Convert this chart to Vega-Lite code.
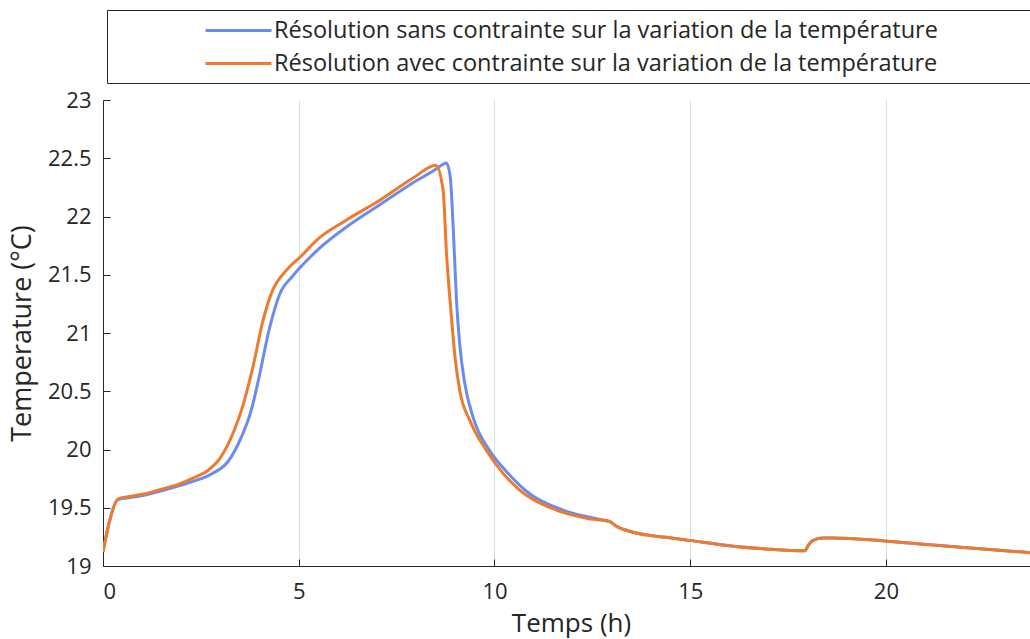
{
  "$schema": "https://vega.github.io/schema/vega-lite/v6.json",
  "width": 927,
  "height": 466,
  "autosize": {"type": "none"},
  "padding": {"left": 103, "top": 100, "right": 0, "bottom": 73},
  "background": "white",
  "config": {
    "font": "Open Sans",
    "view": {"stroke": null},
    "axis": {
      "labelFontSize": 22,
      "titleFontSize": 26,
      "titleFontWeight": "normal",
      "labelColor": "#262626",
      "titleColor": "#262626",
      "domainColor": "#262626",
      "tickColor": "#262626",
      "domainWidth": 1,
      "tickWidth": 1,
      "tickSize": -7
    }
  },
  "data": {
    "values": [
      {"serie": "sans", "t": 0, "T": 19.12},
      {"serie": "sans", "t": 0.17, "T": 19.39},
      {"serie": "sans", "t": 0.38, "T": 19.57},
      {"serie": "sans", "t": 0.64, "T": 19.585},
      {"serie": "sans", "t": 1.07, "T": 19.61},
      {"serie": "sans", "t": 1.49, "T": 19.645},
      {"serie": "sans", "t": 1.92, "T": 19.686},
      {"serie": "sans", "t": 2.34, "T": 19.73},
      {"serie": "sans", "t": 2.77, "T": 19.79},
      {"serie": "sans", "t": 3.19, "T": 19.895},
      {"serie": "sans", "t": 3.54, "T": 20.11},
      {"serie": "sans", "t": 3.79, "T": 20.34},
      {"serie": "sans", "t": 3.96, "T": 20.58},
      {"serie": "sans", "t": 4.26, "T": 21.05},
      {"serie": "sans", "t": 4.51, "T": 21.33},
      {"serie": "sans", "t": 4.85, "T": 21.49},
      {"serie": "sans", "t": 5.2, "T": 21.62},
      {"serie": "sans", "t": 5.54, "T": 21.73},
      {"serie": "sans", "t": 6.22, "T": 21.91},
      {"serie": "sans", "t": 7.07, "T": 22.1},
      {"serie": "sans", "t": 7.92, "T": 22.29},
      {"serie": "sans", "t": 8.52, "T": 22.41},
      {"serie": "sans", "t": 8.69, "T": 22.45},
      {"serie": "sans", "t": 8.77, "T": 22.46},
      {"serie": "sans", "t": 8.87, "T": 22.34},
      {"serie": "sans", "t": 8.94, "T": 21.95},
      {"serie": "sans", "t": 9.03, "T": 21.28},
      {"serie": "sans", "t": 9.11, "T": 20.91},
      {"serie": "sans", "t": 9.24, "T": 20.57},
      {"serie": "sans", "t": 9.45, "T": 20.28},
      {"serie": "sans", "t": 9.88, "T": 19.99},
      {"serie": "sans", "t": 10.31, "T": 19.81},
      {"serie": "sans", "t": 10.9, "T": 19.62},
      {"serie": "sans", "t": 11.75, "T": 19.48},
      {"serie": "sans", "t": 12.69, "T": 19.4},
      {"serie": "sans", "t": 12.95, "T": 19.38},
      {"serie": "sans", "t": 13.12, "T": 19.34},
      {"serie": "sans", "t": 13.54, "T": 19.29},
      {"serie": "sans", "t": 14.39, "T": 19.246},
      {"serie": "sans", "t": 14.97, "T": 19.22},
      {"serie": "sans", "t": 16.1, "T": 19.17},
      {"serie": "sans", "t": 16.95, "T": 19.146},
      {"serie": "sans", "t": 17.93, "T": 19.13},
      {"serie": "sans", "t": 18.02, "T": 19.18},
      {"serie": "sans", "t": 18.14, "T": 19.22},
      {"serie": "sans", "t": 18.4, "T": 19.24},
      {"serie": "sans", "t": 18.65, "T": 19.24},
      {"serie": "sans", "t": 19.97, "T": 19.215},
      {"serie": "sans", "t": 21.21, "T": 19.18},
      {"serie": "sans", "t": 22.48, "T": 19.146},
      {"serie": "sans", "t": 23.68, "T": 19.114},
      {"serie": "avec", "t": 0, "T": 19.12},
      {"serie": "avec", "t": 0.17, "T": 19.39},
      {"serie": "avec", "t": 0.38, "T": 19.575},
      {"serie": "avec", "t": 0.64, "T": 19.594},
      {"serie": "avec", "t": 1.07, "T": 19.62},
      {"serie": "avec", "t": 1.49, "T": 19.66},
      {"serie": "avec", "t": 1.92, "T": 19.7},
      {"serie": "avec", "t": 2.34, "T": 19.76},
      {"serie": "avec", "t": 2.68, "T": 19.82},
      {"serie": "avec", "t": 3.0, "T": 19.93},
      {"serie": "avec", "t": 3.37, "T": 20.18},
      {"serie": "avec", "t": 3.54, "T": 20.34},
      {"serie": "avec", "t": 3.83, "T": 20.71},
      {"serie": "avec", "t": 4.09, "T": 21.11},
      {"serie": "avec", "t": 4.3, "T": 21.34},
      {"serie": "avec", "t": 4.69, "T": 21.54},
      {"serie": "avec", "t": 5.03, "T": 21.65},
      {"serie": "avec", "t": 5.54, "T": 21.82},
      {"serie": "avec", "t": 6.22, "T": 21.97},
      {"serie": "avec", "t": 7.07, "T": 22.14},
      {"serie": "avec", "t": 7.92, "T": 22.33},
      {"serie": "avec", "t": 8.5, "T": 22.44},
      {"serie": "avec", "t": 8.69, "T": 22.22},
      {"serie": "avec", "t": 8.77, "T": 21.71},
      {"serie": "avec", "t": 8.9, "T": 21.14},
      {"serie": "avec", "t": 8.99, "T": 20.8},
      {"serie": "avec", "t": 9.11, "T": 20.51},
      {"serie": "avec", "t": 9.37, "T": 20.25},
      {"serie": "avec", "t": 9.8, "T": 19.99},
      {"serie": "avec", "t": 10.22, "T": 19.795},
      {"serie": "avec", "t": 10.65, "T": 19.65},
      {"serie": "avec", "t": 11.5, "T": 19.49},
      {"serie": "avec", "t": 12.35, "T": 19.41},
      {"serie": "avec", "t": 12.95, "T": 19.38},
      {"serie": "avec", "t": 13.12, "T": 19.34},
      {"serie": "avec", "t": 13.54, "T": 19.29},
      {"serie": "avec", "t": 14.39, "T": 19.246},
      {"serie": "avec", "t": 14.97, "T": 19.22},
      {"serie": "avec", "t": 16.1, "T": 19.17},
      {"serie": "avec", "t": 16.95, "T": 19.146},
      {"serie": "avec", "t": 17.93, "T": 19.13},
      {"serie": "avec", "t": 18.02, "T": 19.18},
      {"serie": "avec", "t": 18.14, "T": 19.22},
      {"serie": "avec", "t": 18.4, "T": 19.24},
      {"serie": "avec", "t": 18.65, "T": 19.24},
      {"serie": "avec", "t": 19.97, "T": 19.215},
      {"serie": "avec", "t": 21.21, "T": 19.18},
      {"serie": "avec", "t": 22.48, "T": 19.146},
      {"serie": "avec", "t": 23.68, "T": 19.114}
    ]
  },
  "mark": {"type": "line", "strokeWidth": 3, "clip": true, "interpolate": "monotone"},
  "encoding": {
    "x": {
      "field": "t",
      "type": "quantitative",
      "scale": {"domain": [0, 23.68], "nice": false, "zero": false},
      "axis": {
        "title": "Temps (h)",
        "values": [0, 5, 10, 15, 20],
        "grid": true,
        "gridColor": "#dedede",
        "gridWidth": 1,
        "labelPadding": 22,
        "titleX": 468,
        "titleY": 44,
        "titleBaseline": "top"
      }
    },
    "y": {
      "field": "T",
      "type": "quantitative",
      "scale": {"domain": [19, 23], "nice": false, "zero": false},
      "axis": {
        "title": "Temperature (°C)",
        "values": [19, 19.5, 20, 20.5, 21, 21.5, 22, 22.5, 23],
        "format": "~g",
        "grid": false,
        "labelPadding": 19,
        "titlePadding": 11,
        "titleFontSize": 27
      }
    },
    "color": {
      "field": "serie",
      "type": "nominal",
      "sort": ["sans", "avec"],
      "scale": {"domain": ["sans", "avec"], "range": ["#6a8cef", "#ee7a2e"]},
      "legend": {
        "orient": "none",
        "legendX": 4,
        "legendY": -90,
        "title": null,
        "direction": "vertical",
        "strokeColor": "#262626",
        "fillColor": "white",
        "padding": 8,
        "symbolType": "M-3,0H3",
        "symbolSize": 484,
        "symbolStrokeWidth": 3,
        "symbolOffset": 111,
        "labelOffset": 23,
        "rowPadding": 9,
        "labelFontSize": 23.5,
        "labelColor": "#262626",
        "labelLimit": 3000,
        "labelExpr": "(datum.label == 'sans' ? 'Résolution sans contrainte sur la variation de la température' : 'Résolution avec contrainte sur la variation de la température') + '                                        \u200b'"
      }
    }
  }
}
